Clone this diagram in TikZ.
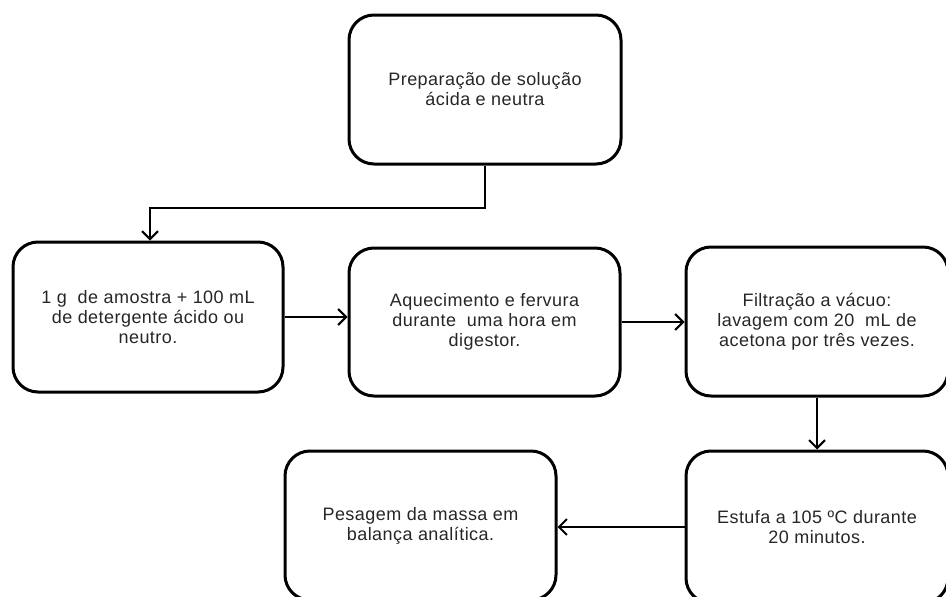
\documentclass[tikz,border=0pt]{standalone}
\usepackage{fontspec}
\setmainfont[LetterSpace=2.5]{Liberation Sans}
\usetikzlibrary{arrows.meta}
\begin{document}
\begin{tikzpicture}[x=1pt,y=-1pt,
  stepbox/.style={draw=black, line width=3pt, rounded corners=25pt, align=center,
    font=\fontsize{18}{20}\selectfont, inner sep=0pt, text=black!85},
  arr/.style={draw=black, line width=2pt, -{Straight Barb[length=8pt,width=16pt,line width=2pt]}}]
\useasboundingbox (0,0) rectangle (946,597);
\clip (0,0) rectangle (946,597);
\node[stepbox, minimum width=272pt, minimum height=149pt] (top) at (485,89.5) {Preparação de solução\\ácida e neutra};
\node[stepbox, minimum width=270pt, minimum height=150pt] (b1) at (148,317) {1 g\ \ de amostra + 100 mL\\de detergente ácido ou\\neutro.};
\node[stepbox, minimum width=271pt, minimum height=148pt] (b2) at (484.5,322) {Aquecimento e fervura\\durante\ \ uma hora em\\digestor.};
\node[stepbox, minimum width=262pt, minimum height=149pt] (b3) at (817,321.5) {Filtração a vácuo:\\lavagem com 20\ \ mL de\\acetona por três vezes.};
\node[stepbox, minimum width=262pt, minimum height=152pt] (b5) at (817,527) {Estufa a 105 ºC durante\\20 minutos.};
\node[stepbox, minimum width=271pt, minimum height=149pt] (b4) at (420.5,525.5) {Pesagem da massa em\\balança analítica.};
\coordinate (k) at (150,208);
\draw[arr] (top.south) |- (k) -- (k |- b1.north);
\draw[arr] (b1.east) -- (b1.east -| b2.west);
\draw[arr] (b2.east) -- (b2.east -| b3.west);
\draw[arr] (b3.south) -- (b5.north);
\draw[arr] (b5.west) -- (b5.west -| b4.east);
\end{tikzpicture}
\end{document}
